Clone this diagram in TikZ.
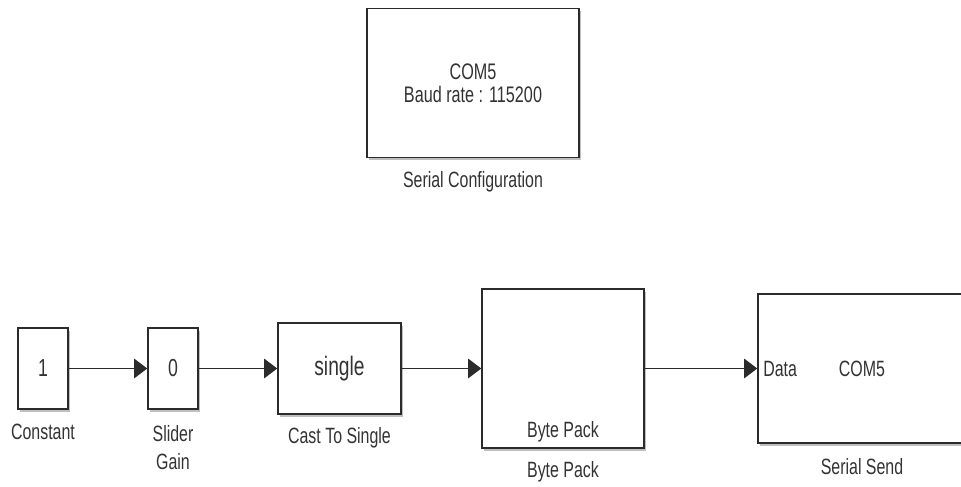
\documentclass[tikz,border=0pt]{standalone}
\usepackage{fontspec}
\setmainfont{Liberation Sans}[FakeStretch=0.72]
\usetikzlibrary{arrows.meta,positioning,shadows}
\definecolor{blockline}{HTML}{2B2B2B}
\definecolor{labeltext}{HTML}{333333}

\begin{document}
\begin{tikzpicture}[x=0.02cm,y=-0.02cm,font=\fontsize{12.6}{15}\selectfont,text=labeltext,
block/.style={draw=blockline,fill=white,line width=.9pt,inner sep=0pt,align=center,drop shadow={shadow xshift=1.2pt,shadow yshift=-1.5pt,fill=black,opacity=.25}},
caption/.style={align=center,inner sep=0pt},
signal/.style={-{Triangle[length=2.6mm,width=3.9mm]},line width=.6pt,draw=blockline}]
\useasboundingbox (0,0) rectangle (961,487);
\node[block,minimum width=4.24cm,minimum height=2.98cm,font=\fontsize{12.8}{13}\selectfont] (cfg) at (473,83) {COM5\\Baud rate : 115200};
\node[caption] (cfglabel) at (473,182) {Serial Configuration};
\node[block,minimum width=1cm,minimum height=1.62cm,font=\fontsize{14}{15}\selectfont] (const) at (43,368.5) {1};
\node[caption] (constlabel) at (43,432) {Constant};
\node[block,minimum width=1cm,minimum height=1.62cm,font=\fontsize{14}{15}\selectfont] (gain) at (173,368.5) {0};
\node[caption] (gainlabel) at (173,448) {Slider\\[1pt]Gain};
\node[block,minimum width=2.46cm,minimum height=1.82cm,font=\fontsize{15.2}{16}\selectfont] (cast) at (339.5,368.5) {single};
\node[caption] (castlabel) at (339.5,438) {Cast To Single};
\node[block,minimum width=3.24cm,minimum height=3.18cm] (pack) at (563,368.5) {};
\node[caption] (packtext) at (563,432) {Byte Pack};
\node[caption] (packlabel) at (563,472) {Byte Pack};
\begin{scope}
\clip (0,0) rectangle (961,487);
\node[block,minimum width=4.44cm,minimum height=2.98cm] (send) at (869,368.5) {};
\end{scope}
\node[caption,anchor=west] (sendport) at (763,369) {Data};
\node[caption] (sendtext) at (862,369) {COM5};
\node[caption] (sendlabel) at (862,467) {Serial Send};
\draw[signal] (const)--(gain);
\draw[signal] (gain)--(cast);
\draw[signal] (cast)--(pack);
\draw[signal] (pack)--(send);
\end{tikzpicture}
\end{document}
